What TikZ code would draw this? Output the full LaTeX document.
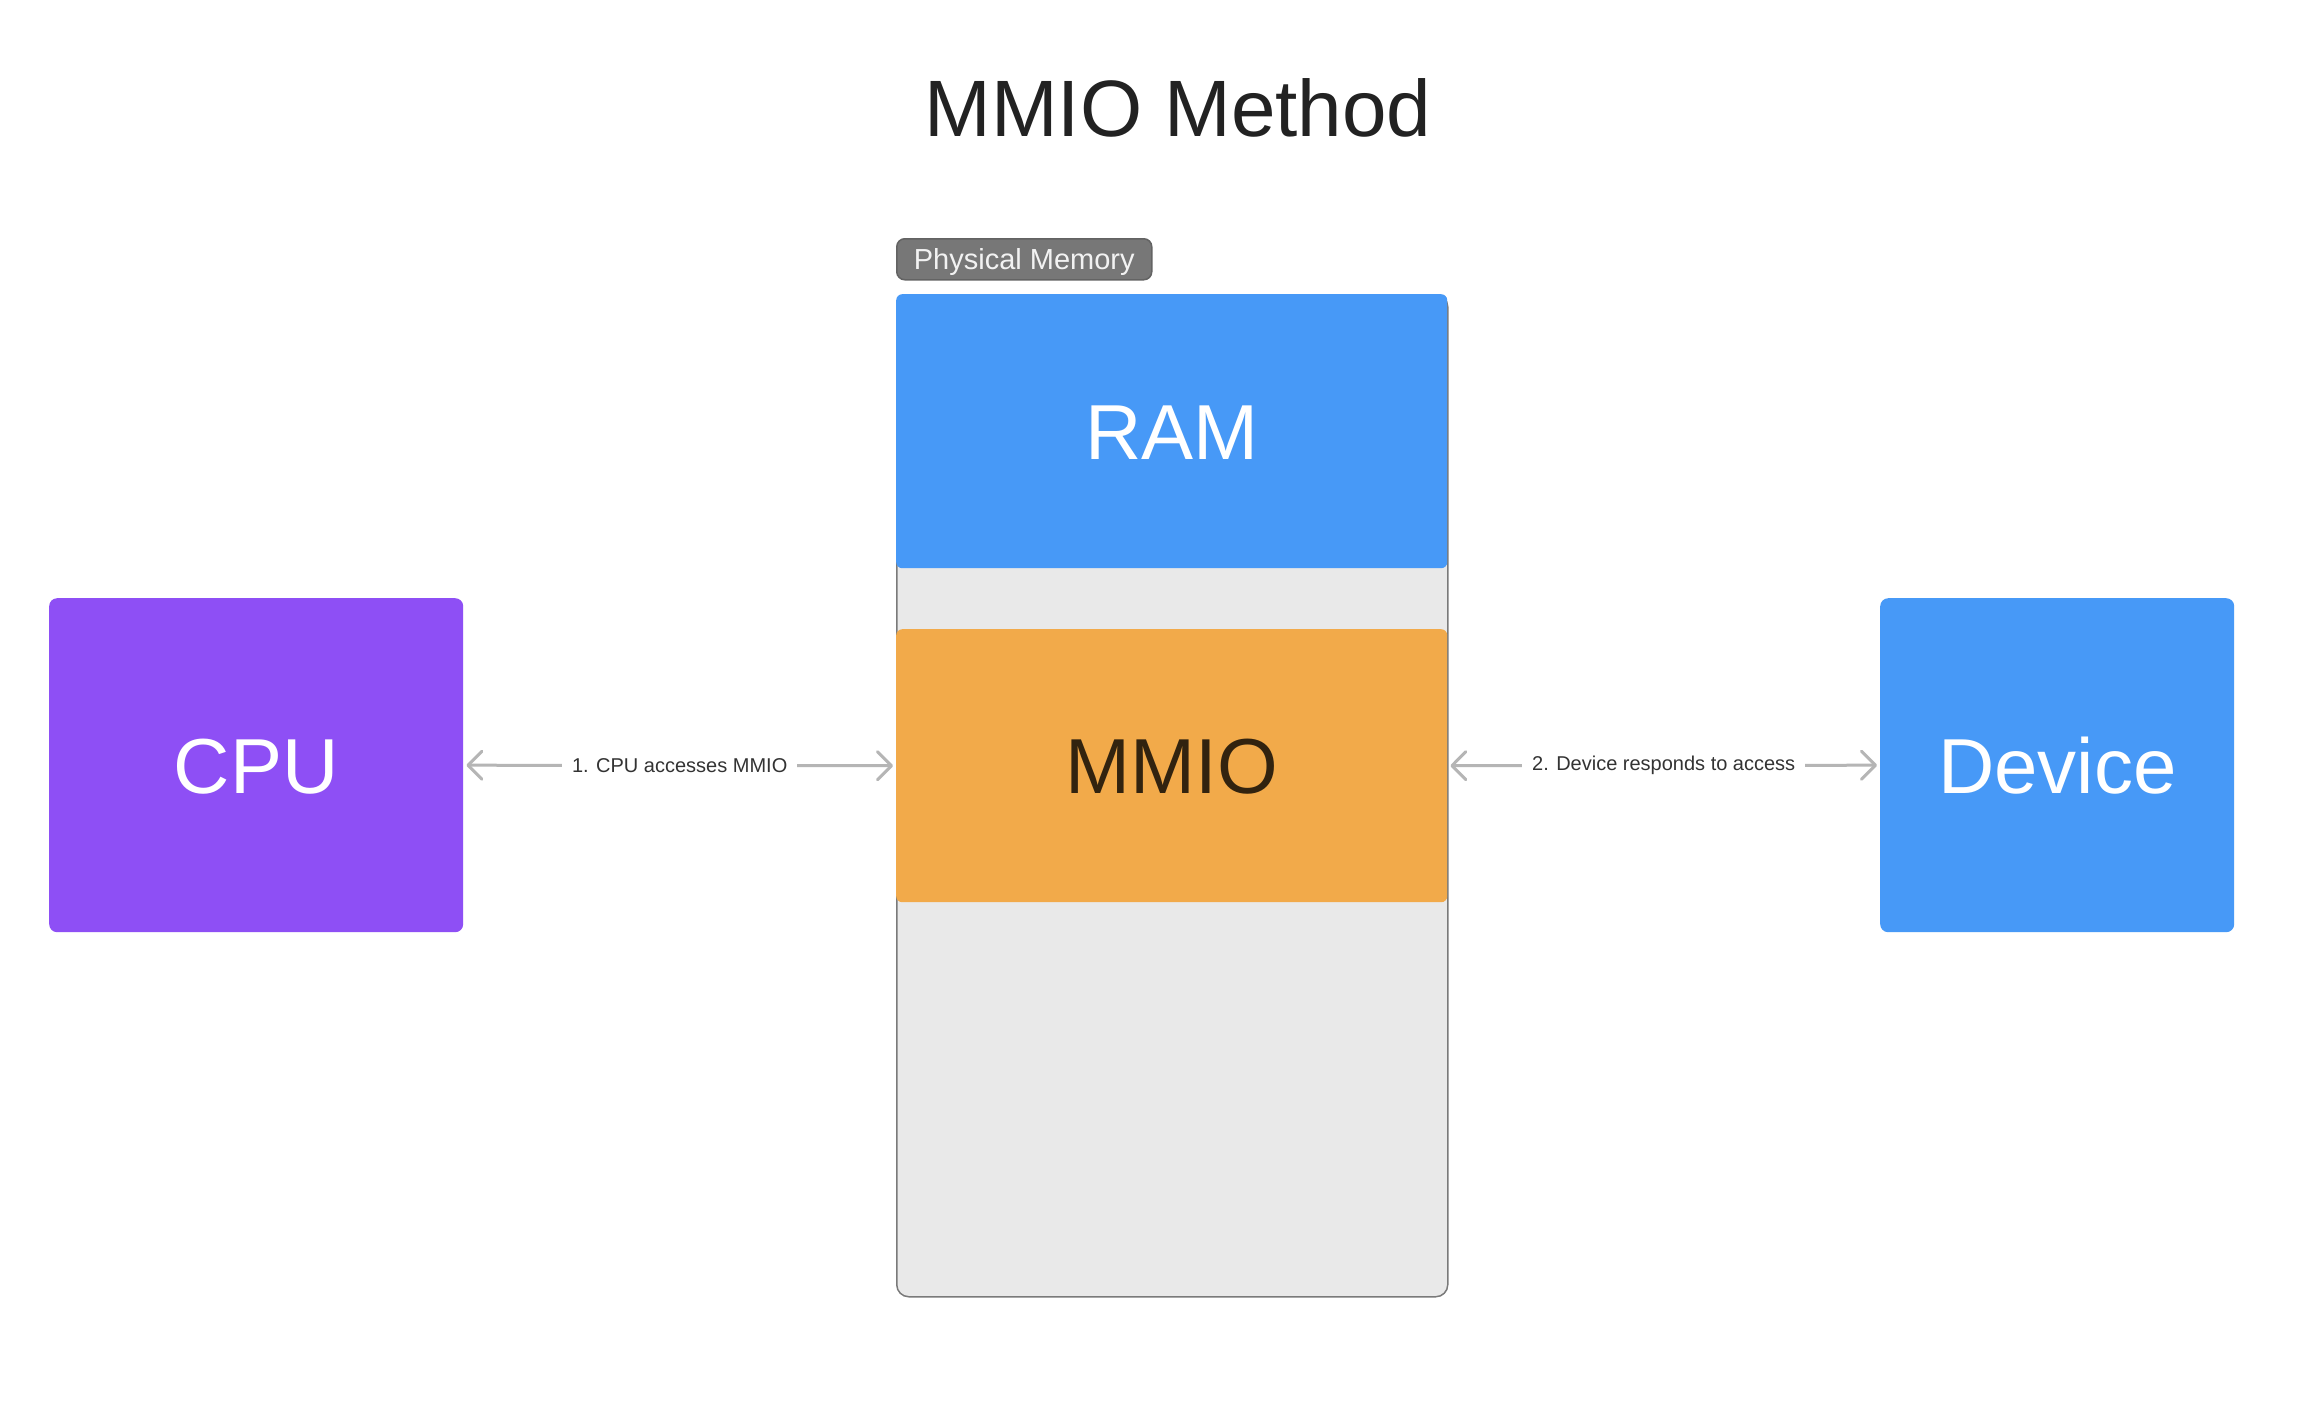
\documentclass[tikz,border=0pt]{standalone}
\usepackage{fontspec}
\setmainfont{Liberation Sans}
\usetikzlibrary{arrows.meta}
\definecolor{cpupurple}{HTML}{8E4FF5}
\definecolor{blu}{HTML}{4799F7}
\definecolor{orng}{HTML}{F2AA4A}
\definecolor{memgray}{HTML}{E9E9E9}
\definecolor{memborder}{HTML}{7A7A7A}
\definecolor{arrowgray}{HTML}{B5B5B5}
\definecolor{labelgray}{HTML}{777777}
\definecolor{labelborder}{HTML}{636363}
\definecolor{titlecol}{HTML}{222222}
\definecolor{mmiotext}{HTML}{32230F}
\definecolor{conntext}{HTML}{333333}
\begin{document}
\begin{tikzpicture}[x=1pt,y=-1pt,
  box/.style={rectangle, rounded corners=8pt, inner sep=0pt, text=white,
    font=\fontsize{78}{80}\selectfont, text height=56pt, text depth=0pt, anchor=north west},
  conn/.style={draw=arrowgray, line width=3pt, line cap=round,
    {Straight Barb[length=14pt,width=28pt,round]}-{Straight Barb[length=14pt,width=28pt,round]},
    shorten <=3pt, shorten >=3pt},
  lbl/.style={fill=white, text=conntext, font=\fontsize{20}{24}\selectfont, inner xsep=10pt, inner ysep=4pt}
]
\useasboundingbox (0,0) rectangle (2314,1400);
\fill[white] (0,0) rectangle (2314,1400);

\node[anchor=base, text=titlecol, font=\fontsize{80}{90}\selectfont] (title) at (1178,136) {MMIO Method};

\node[anchor=north west, minimum width=551pt, minimum height=1002pt, fill=memgray, draw=memborder,
  line width=1.5pt, rounded corners=12pt, inner sep=0pt] (mem) at (896,294) {};
\node[box, fill=blu, rounded corners=6pt, minimum width=551pt, minimum height=274pt] (ram) at (896,294) {RAM};
\node[box, fill=orng, text=mmiotext, rounded corners=6pt, minimum width=551pt, minimum height=273pt] (mmio) at (896,629) {MMIO};

\node[anchor=north west, minimum width=255pt, minimum height=41pt, inner sep=0pt, fill=labelgray,
  draw=labelborder, line width=1.5pt, rounded corners=8pt, text=white!95!black,
  text height=21pt, text depth=0pt,
  font=\fontsize{29}{32}\selectfont] (pm) at (896,238) {Physical Memory};

\node[box, fill=cpupurple, minimum width=414pt, minimum height=334pt] (cpu) at (49,598) {CPU};
\node[box, fill=blu, minimum width=354pt, minimum height=334pt] (dev) at (1880,598) {Device};

\draw[conn] (cpu.east) -- node[lbl] (l1) {1. CPU accesses MMIO} (mmio.west);
\draw[conn] (mmio.east) -- node[lbl] (l2) {2. Device responds to access} (dev.west);
\end{tikzpicture}
\end{document}
